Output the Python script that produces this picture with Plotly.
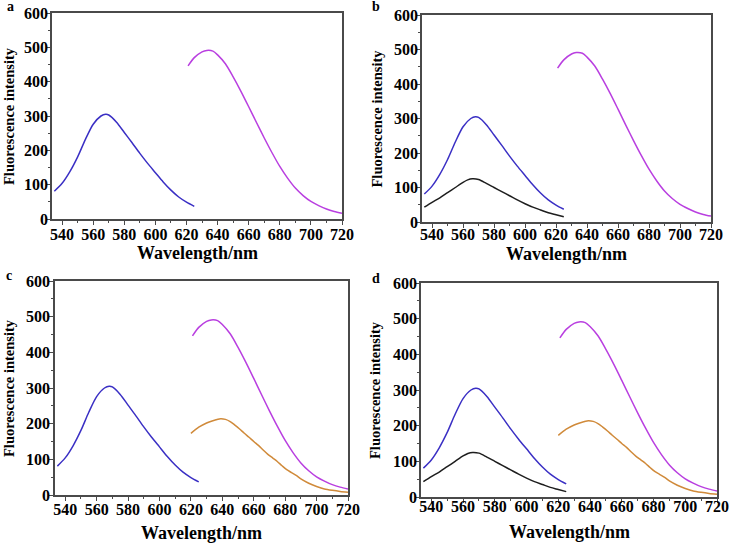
import plotly.graph_objects as go

# ---------------- data ----------------
blue_x = [535, 540, 545, 550, 555, 560, 565, 568, 570, 575, 580, 585, 590, 595, 600, 605, 610, 615, 620, 625]
blue_y = [81, 104, 138, 181, 232, 276, 300, 305, 303, 282, 252, 222, 191, 162, 135, 108, 84, 64, 49, 37]

black_x = [535, 540, 545, 550, 555, 560, 563, 566, 570, 575, 580, 585, 590, 595, 600, 605, 610, 615, 620, 625]
black_y = [43, 57, 70, 85, 100, 115, 122, 125, 123, 112, 100, 88, 76, 64, 53, 43, 35, 27, 21, 15]

magenta_x = [621, 625, 630, 633, 637, 640, 645, 650, 655, 660, 665, 670, 675, 680, 685, 690, 695, 700, 705, 710, 715, 720]
magenta_y = [446, 470, 487, 491, 489, 478, 452, 414, 372, 327, 281, 236, 193, 153, 119, 90, 68, 51, 39, 29, 22, 17]

orange_x = [620, 625, 630, 633, 636, 639, 642, 645, 648, 651, 654, 657, 660, 663, 666, 669, 672, 675, 678, 681,
            684, 687, 690, 695, 700, 705, 710, 715, 720]
orange_y = [173, 190, 202, 207, 211, 214, 212, 206, 196, 185, 173, 162, 150, 139, 126, 114, 104, 94, 82, 71,
            63, 55, 45, 33, 24, 17, 13, 10, 8]

x_ticks = [540, 560, 580, 600, 620, 640, 660, 680, 700, 720]
y_ticks = [0, 100, 200, 300, 400, 500, 600]
panel_labels = ["a", "b", "c", "d"]
panel_series = [
    ["blue", "magenta"],
    ["blue", "black", "magenta"],
    ["blue", "magenta", "orange"],
    ["blue", "black", "magenta", "orange"],
]
x_title = "Wavelength/nm"
y_title = "Fluorescence intensity"

series = {
    "blue": (blue_x, blue_y, "#3a2fc4"),
    "black": (black_x, black_y, "#1e1e1e"),
    "magenta": (magenta_x, magenta_y, "#b93fe0"),
    "orange": (orange_x, orange_y, "#d08a3a"),
}

W, H = 731, 543
X_RANGE = [533.5, 720]
Y_RANGE = [0, 600]
# plot-area pixel boxes: left, right, top, bottom
boxes = [
    (52, 342, 13, 219),
    (422, 711, 15, 222),
    (55, 348, 281, 495),
    (421, 717, 283, 497),
]
label_pos = [(10, 7), (376, 7), (9, 275), (376, 278)]
xtitle_y = [253, 254, 533, 532]
ytitle_x = [9, 377, 9, 375]
# pixel lines on which the tick-label-only axes sit
xlab_line = [223, 223, 498, 495]
ylab_line = [48, 418, 50, 417]

FONT = "Liberation Serif"
AX = "#4a4a4a"
TICKFONT = dict(family=FONT, size=16, color="black")

fig = go.Figure()
layout = dict(
    width=W, height=H,
    margin=dict(l=0, r=0, t=0, b=0, autoexpand=False),
    paper_bgcolor="white", plot_bgcolor="white",
    showlegend=False,
    font=dict(family=FONT, color="black"),
)

annotations = []
for i, (names, box) in enumerate(zip(panel_series, boxes)):
    n = i + 1
    xa = "x" if n == 1 else f"x{n}"
    ya = "y" if n == 1 else f"y{n}"
    xl, yl = f"x{n + 4}", f"y{n + 4}"
    for nm in names:
        xs, ys, col = series[nm]
        fig.add_trace(go.Scatter(x=xs, y=ys, mode="lines",
                                 line=dict(color=col, width=1.5, shape="spline", smoothing=0.8),
                                 xaxis=xa, yaxis=ya, name=nm, hoverinfo="skip"))
    # empty trace that registers the label-only axes
    fig.add_trace(go.Scatter(x=[None], y=[None], mode="lines", xaxis=xl, yaxis=yl, hoverinfo="skip"))
    l, r, t, b = box
    xkey = "xaxis" if n == 1 else f"xaxis{n}"
    ykey = "yaxis" if n == 1 else f"yaxis{n}"
    layout[xkey] = dict(
        domain=[l / W, r / W], anchor=ya, range=X_RANGE, automargin=False,
        tickvals=x_ticks, showticklabels=False,
        ticks="outside", ticklen=4, tickwidth=1.2, tickcolor=AX,
        minor=dict(ticks="outside", ticklen=2.5, tickwidth=1, tickcolor=AX, dtick=10, tick0=540, showgrid=False),
        showline=True, linecolor=AX, linewidth=1.5, mirror=True,
        showgrid=False, zeroline=False,
    )
    layout[ykey] = dict(
        domain=[1 - b / H, 1 - t / H], anchor=xa, range=Y_RANGE, automargin=False,
        tickvals=y_ticks, showticklabels=False,
        ticks="outside", ticklen=4, tickwidth=1.2, tickcolor=AX,
        minor=dict(ticks="outside", ticklen=2.5, tickwidth=1, tickcolor=AX, dtick=50, tick0=0, showgrid=False),
        showline=True, linecolor=AX, linewidth=1.5, mirror=True,
        showgrid=False, zeroline=False,
    )
    # tick-label-only axes (same scales), placed to match the reference spacing
    layout[f"xaxis{n + 4}"] = dict(
        overlaying=xa, anchor="free", position=1 - xlab_line[i] / H, side="bottom",
        range=X_RANGE, automargin=False, tickvals=x_ticks, ticktext=[f"<b>{v}</b>" for v in x_ticks],
        ticks="", showline=False, showgrid=False, zeroline=False, tickfont=TICKFONT,
    )
    layout[f"yaxis{n + 4}"] = dict(
        overlaying=ya, anchor="free", position=ylab_line[i] / W, side="left",
        range=Y_RANGE, automargin=False, tickvals=y_ticks, ticktext=[f"<b>{v}</b>" for v in y_ticks],
        ticks="", showline=False, showgrid=False, zeroline=False, tickfont=TICKFONT,
    )
    lx, ly = label_pos[i]
    annotations.append(dict(text=f"<b>{panel_labels[i]}</b>", x=lx / W, y=1 - ly / H, xref="paper", yref="paper",
                            xanchor="center", yanchor="middle", showarrow=False,
                            font=dict(family=FONT, size=14, color="black")))
    annotations.append(dict(text=f"<b>{x_title}</b>", x=(l + r) / 2 / W, y=1 - xtitle_y[i] / H,
                            xref="paper", yref="paper", xanchor="center", yanchor="middle", showarrow=False,
                            font=dict(family=FONT, size=18, color="black")))
    annotations.append(dict(text=f"<b>{y_title}</b>", x=ytitle_x[i] / W, y=1 - (t + b) / 2 / H,
                            xref="paper", yref="paper", xanchor="center", yanchor="middle", showarrow=False,
                            textangle=-90, font=dict(family=FONT, size=14.5, color="black")))

layout["annotations"] = annotations
fig.update_layout(**layout)
fig.write_html("out.html", config={"displayModeBar": False},
               post_script="document.body.style.margin='0';document.body.style.padding='0';"
                           "document.body.style.overflow='hidden';")
